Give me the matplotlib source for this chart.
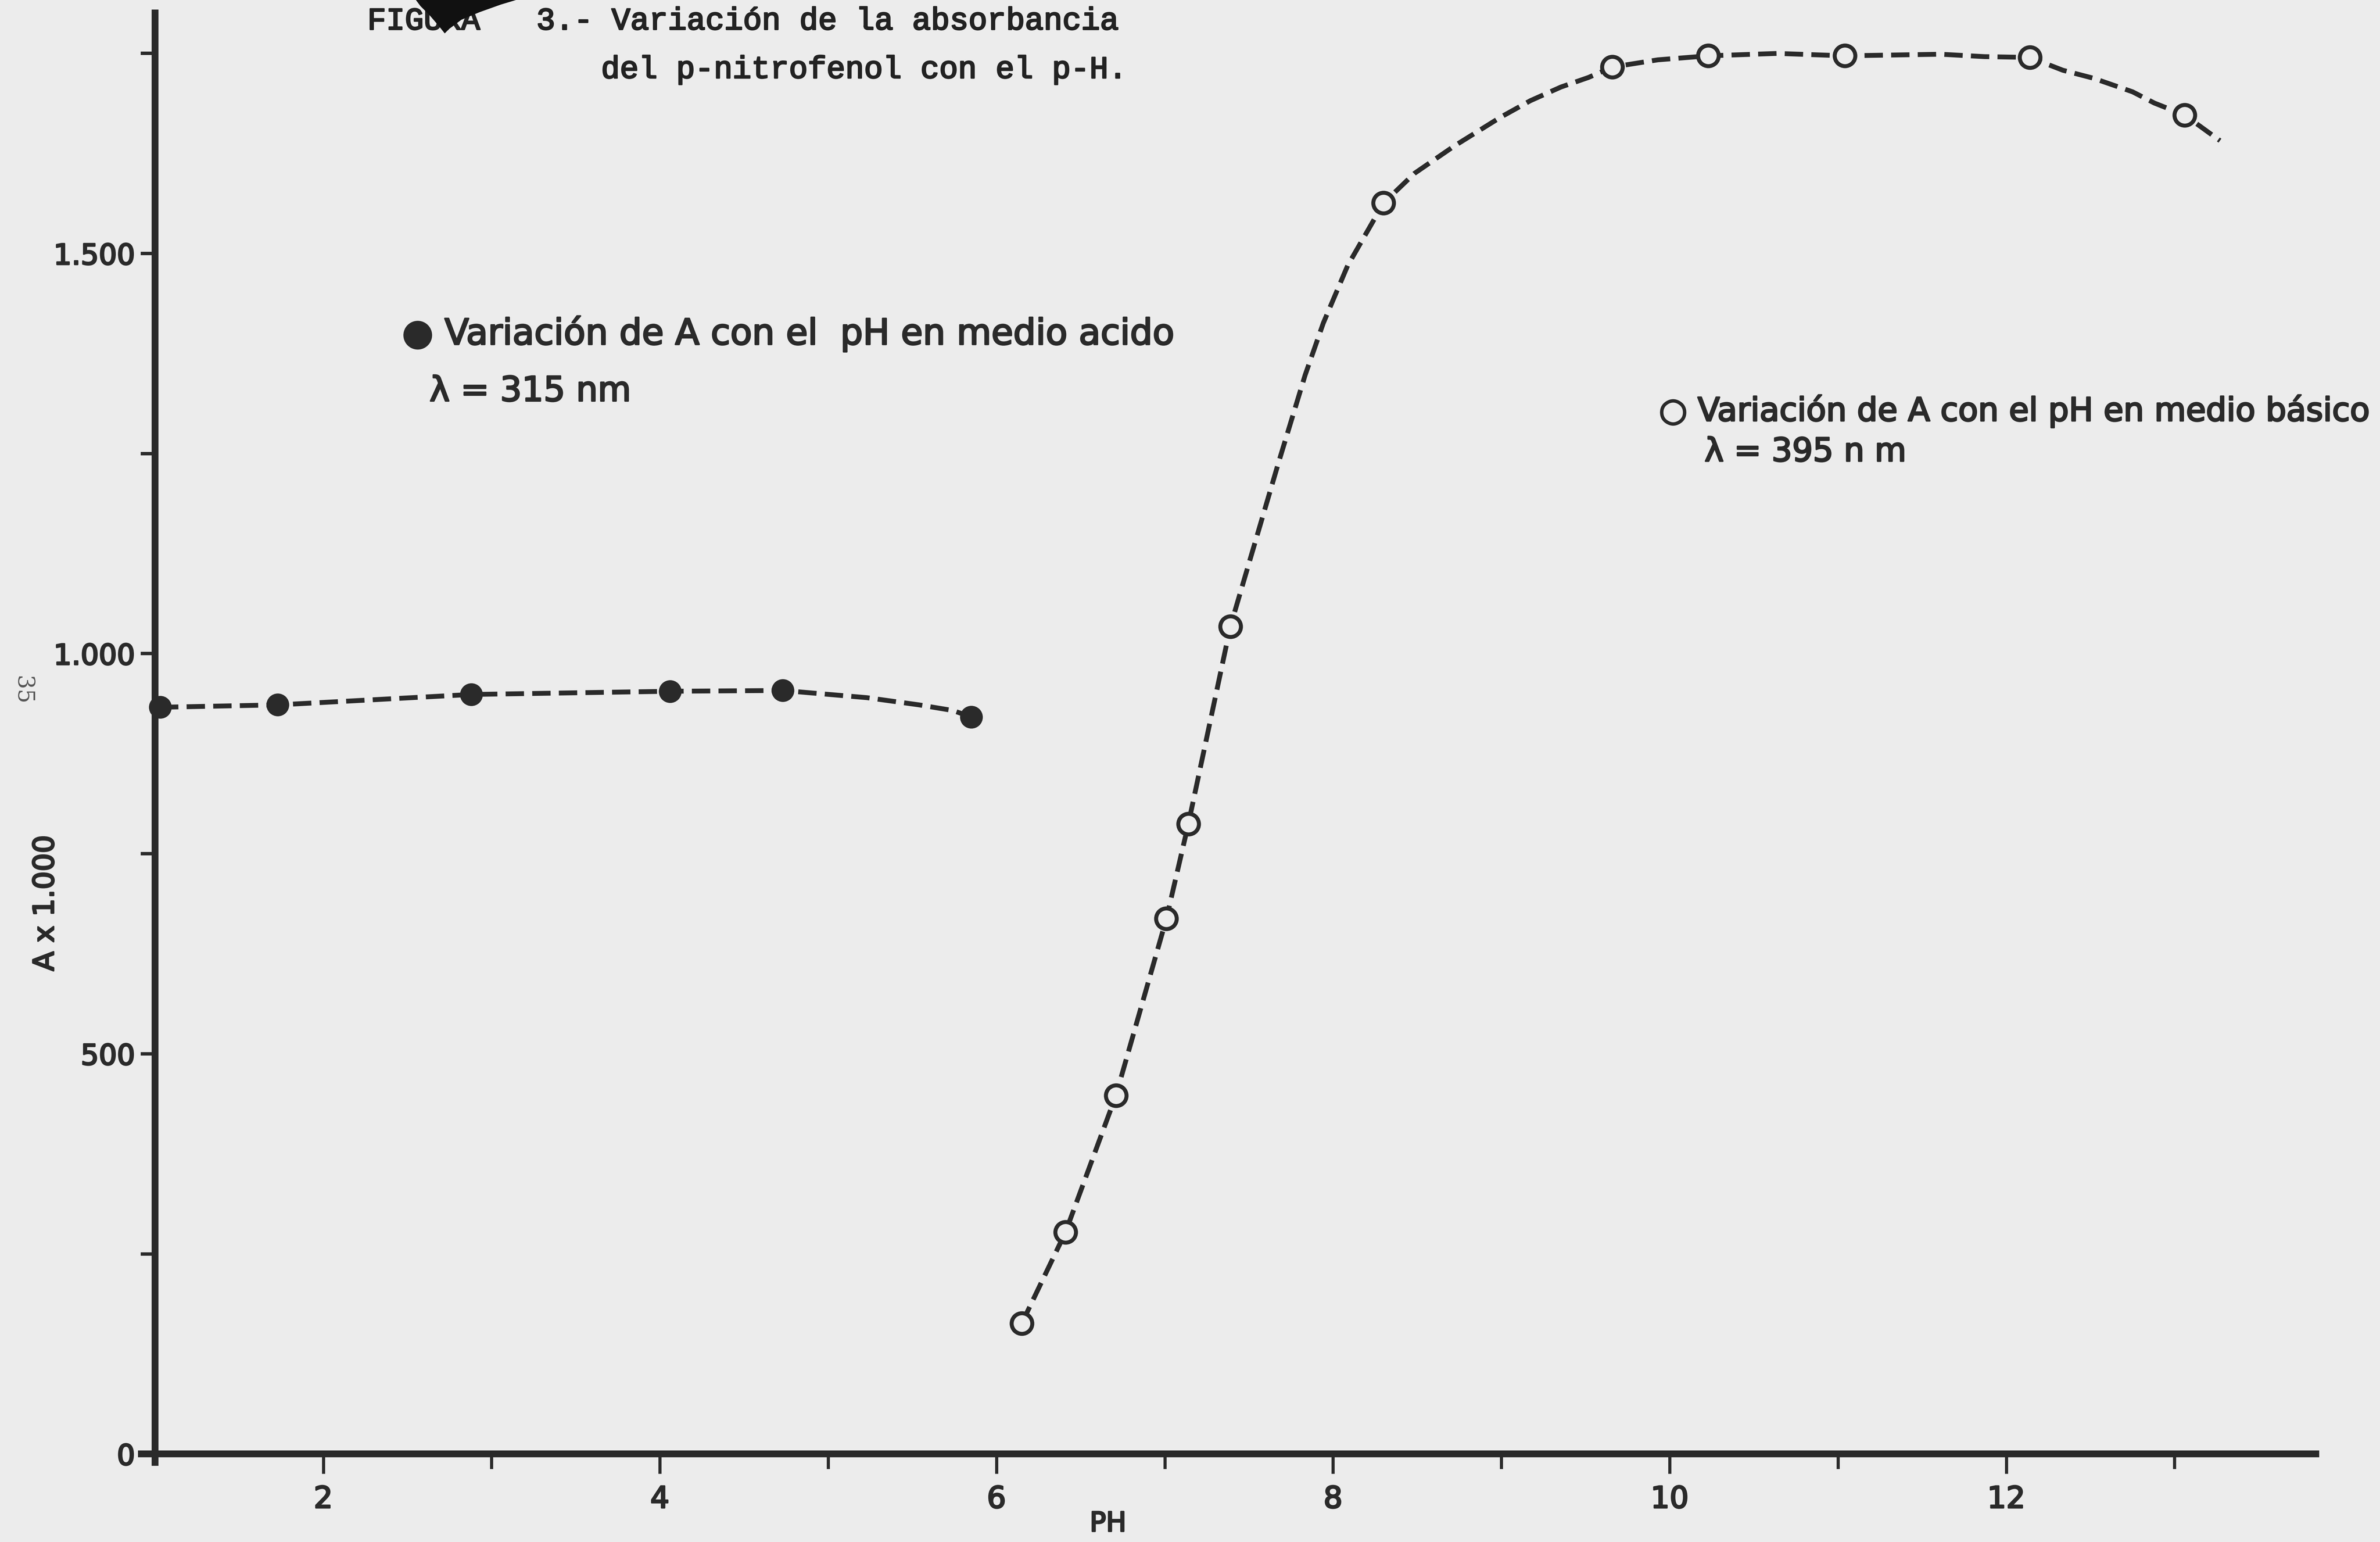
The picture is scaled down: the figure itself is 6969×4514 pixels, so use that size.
import matplotlib
matplotlib.use("Agg")
from matplotlib import pyplot as plt
from matplotlib.patches import Polygon
import matplotlib.patheffects as pe

# acid medium (filled points), lambda = 315 nm
acid_ph = [1.03, 1.73, 2.88, 4.06, 4.73, 5.85]
acid_a = [933, 936, 949, 953, 954, 921]
# dashed curve drawn through the acid points
acid_curve_ph = [1.03, 1.73, 2.88, 4.06, 4.73, 5.23, 5.54, 5.74, 5.85]
acid_curve_a = [933, 936, 949, 953, 954, 945, 936, 929, 921]

# basic medium (open points), lambda = 395 nm
basic_ph = [6.15, 6.41, 6.71, 7.01, 7.14, 7.39, 8.30, 9.66, 10.23, 11.04, 12.14, 13.06]
basic_a = [163, 277, 448, 669, 787, 1034, 1563, 1733, 1747, 1747, 1745, 1673]
# hand drawn dashed curve
basic_curve_ph = [6.15, 6.41, 6.71, 7.01, 7.14, 7.39, 7.675, 7.834, 7.942, 8.087,
                  8.30, 8.483, 8.718, 8.993, 9.173, 9.354, 9.518, 9.66, 9.93,
                  10.23, 10.64, 11.04, 11.61, 11.87, 12.14, 12.336, 12.518,
                  12.751, 12.88, 13.06, 13.27]
basic_curve_a = [163, 277, 448, 669, 787, 1034, 1238, 1348, 1413, 1485,
                 1563, 1600, 1634, 1670, 1691, 1708, 1720, 1733, 1742,
                 1747, 1750, 1747, 1749, 1746, 1745, 1729, 1719,
                 1702, 1688, 1673, 1641]

x_major = [2, 4, 6, 8, 10, 12]
x_minor = [3, 5, 7, 9, 11, 13]
y_major = [0, 500, 1000, 1500]
y_labels = ["0", "500", "1.000", "1.500"]
y_minor = [250, 750, 1250, 1750]

bg = "#ececec"
ink = "#2a2a2a"
heavy = [pe.withStroke(linewidth=1.1, foreground=ink)]

W, H = 1568.0, 1016.0  # layout measured on the reduced picture


def fx(x):
    return x / W


def fy(y):
    return 1 - y / H


fig = plt.figure(figsize=(6969 / 300, 4514 / 300), dpi=300, facecolor=bg)
ax = fig.add_axes([fx(91), fy(965.9), fx(1528) - fx(91), fy(6.2) - fy(965.9)])
ax.set_facecolor("none")
ax.set_xlim(0.9, 13.86)
ax.set_ylim(-15, 1805)

for s in ["top", "right"]:
    ax.spines[s].set_visible(False)
ax.spines["left"].set_position(("data", 1.0))
ax.spines["bottom"].set_position(("data", 0))
for s in ["left", "bottom"]:
    ax.spines[s].set_linewidth(4.8)
    ax.spines[s].set_color(ink)
    ax.spines[s].set_capstyle("butt")

ax.plot(acid_curve_ph, acid_curve_a, color=ink, lw=3.4, dashes=(3.8, 1.7), zorder=2)
ax.plot(basic_curve_ph, basic_curve_a, color=ink, lw=3.4, dashes=(3.8, 1.7), zorder=2)
ax.plot(acid_ph, acid_a, "o", ms=16, mfc=ink, mec=ink, mew=0, ls="none", zorder=3)
ax.plot(basic_ph, basic_a, "o", ms=14.5, mfc=bg, mec=ink, mew=2.8, ls="none", zorder=3)

ax.set_xticks(x_major)
ax.set_xticklabels([str(v) for v in x_major])
ax.set_xticks(x_minor, minor=True)
ax.set_yticks(y_major)
ax.set_yticklabels(y_labels)
ax.set_yticks(y_minor, minor=True)
ax.tick_params(axis="x", which="major", direction="out", length=14, width=2.2,
               pad=8, labelsize=21, colors=ink)
ax.tick_params(axis="x", which="minor", direction="out", length=10.5, width=2.2, colors=ink)
ax.tick_params(axis="y", which="both", direction="out", length=10, width=2.4,
               pad=4, labelsize=20, colors=ink)
for lab in ax.get_xticklabels() + ax.get_yticklabels():
    lab.set_path_effects(heavy)

fig.text(fx(30), fy(595), "A x 1.000", rotation=90, ha="center", va="center",
         fontsize=20, color=ink, path_effects=heavy)
fig.text(fx(15), fy(455), "35", rotation=-90, ha="center", va="center",
         fontsize=16, color="#555555", family="DejaVu Serif")
fig.text(fx(730), fy(1004), "PH", ha="center", va="center", fontsize=19, color=ink,
         path_effects=heavy)

# typed caption
fig.text(fx(242), fy(14), "FIGURA   3.- Variación de la absorbancia", ha="left",
         va="center", fontsize=22, family="Liberation Mono", color="#222222",
         path_effects=[pe.withStroke(linewidth=1.0, foreground="#222222")])
fig.text(fx(396), fy(46), "del p-nitrofenol con el p-H.", ha="left",
         va="center", fontsize=22, family="Liberation Mono", color="#222222",
         path_effects=[pe.withStroke(linewidth=1.0, foreground="#222222")])
blot = [(274, 0), (340, 0), (330, 3), (316, 8), (304, 13), (296, 19), (293, 22),
        (289, 17), (283, 10), (277, 4)]
fig.patches.append(Polygon([(fx(a), fy(b)) for a, b in blot], closed=True,
                           transform=fig.transFigure, facecolor="#111111",
                           edgecolor="none", zorder=5))

# series keys
fig.text(fx(265), fy(220), "● Variación de A con el  pH en medio acido", ha="left",
         va="center", fontsize=25, color=ink, path_effects=heavy)
fig.text(fx(283), fy(258), "λ = 315 nm", ha="left", va="center", fontsize=24,
         color=ink, path_effects=heavy)
fig.text(fx(1093), fy(271), "○ Variación de A con el pH en medio básico", ha="left",
         va="center", fontsize=22.8, color=ink, path_effects=heavy)
fig.text(fx(1123), fy(298), "λ = 395 n m", ha="left", va="center", fontsize=22.8,
         color=ink, path_effects=heavy)

fig.savefig("out.png", dpi=300, facecolor=bg)
